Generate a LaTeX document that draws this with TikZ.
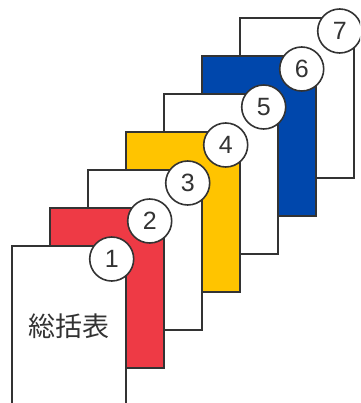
\documentclass[tikz,border=0pt]{standalone}
\usepackage{fontspec}
\setmainfont{Liberation Sans}
\newfontfamily\cjk{Noto Sans CJK JP}
\definecolor{lineg}{HTML}{333333}
\definecolor{sheetred}{HTML}{EE3A45}
\definecolor{sheetyel}{HTML}{FFC400}
\definecolor{sheetblue}{HTML}{0047AC}
\begin{document}
\begin{tikzpicture}[x=1pt,y=-1pt,
  sheet/.style={draw=lineg,line width=1.7pt,rectangle,minimum width=114pt,minimum height=160pt,inner sep=0pt,anchor=north west},
  numc/.style={draw=lineg,line width=1.6pt,circle,fill=white,minimum size=44pt,inner sep=0pt,font=\fontsize{25}{25}\selectfont,text=lineg}]
\clip (0,0) rectangle (360,403);
\fill[white] (0,0) rectangle (360,403);
\foreach \k/\col in {7/white,6/sheetblue,5/white,4/sheetyel,3/white,2/sheetred,1/white}{
  \pgfmathsetmacro{\lx}{11+38*(\k-1)}
  \pgfmathsetmacro{\ty}{245-38*(\k-1)}
  \node[sheet,fill=\col] (s\k) at (\lx,\ty) {};
  \node[numc] (c\k) at ([xshift=-15pt,yshift=-14pt]s\k.north east) {\k};
}
\node[font=\cjk\fontsize{27}{27}\selectfont,text=lineg] (t) at (68.5,326) {総括表};
\end{tikzpicture}
\end{document}
